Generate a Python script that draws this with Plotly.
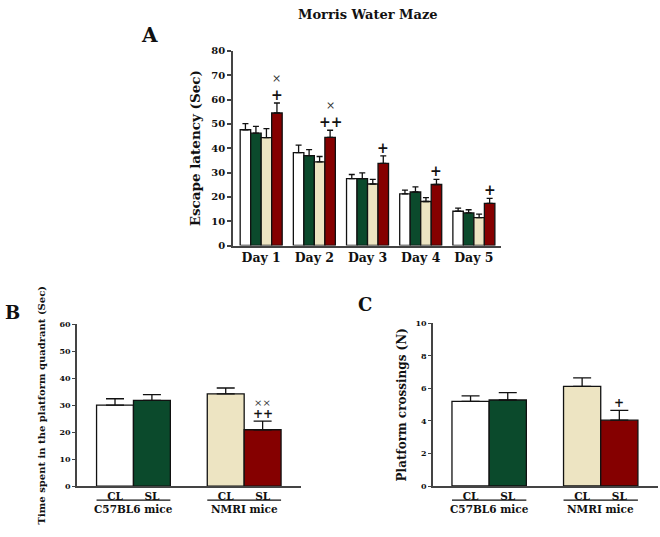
import plotly.graph_objects as go
import numpy as np

# ---------------- data ----------------
days = ["Day 1", "Day 2", "Day 3", "Day 4", "Day 5"]
a_c57_cl = [47.6, 38.2, 27.5, 21.2, 14.1]
a_c57_cl_err = [2.5, 3.1, 1.7, 1.6, 1.3]
a_c57_sl = [46.2, 37.0, 27.5, 22.0, 13.4]
a_c57_sl_err = [2.8, 2.4, 2.4, 2.1, 1.3]
a_nmri_cl = [44.4, 34.4, 25.3, 18.1, 11.5]
a_nmri_cl_err = [3.7, 2.2, 1.9, 1.6, 1.4]
a_nmri_sl = [54.5, 44.5, 33.8, 25.1, 17.3]
a_nmri_sl_err = [4.1, 2.9, 3.1, 2.1, 2.1]
a_marks_plus = ["+", "++", "+", "+", "+"]
a_marks_x = ["×", "×", "", "", ""]

groups_bc = ["CL", "SL", "CL", "SL"]
strains = ["C57BL6 mice", "NMRI mice"]
b_vals = [30.0, 31.8, 34.2, 20.9]
b_err = [2.4, 2.1, 2.2, 3.2]
b_marks = ["", "", "", "++"]
b_marks2 = ["", "", "", "××"]
c_vals = [5.21, 5.29, 6.13, 4.05]
c_err = [0.34, 0.46, 0.52, 0.60]
c_marks = ["", "", "", "+"]

colors = ["#ffffff", "#0b4a2c", "#ede4c2", "#850000"]
FONT = "DejaVu Serif"
W, H = 660, 537

def px(x):
    return x / W

def py(y):
    return 1 - y / H

fig = go.Figure()

# ---------------- panel A ----------------
bw = 0.1975
offsets = [-1.5 * bw, -0.5 * bw, 0.5 * bw, 1.5 * bw]
a_series = [(a_c57_cl, a_c57_cl_err), (a_c57_sl, a_c57_sl_err),
            (a_nmri_cl, a_nmri_cl_err), (a_nmri_sl, a_nmri_sl_err)]
xd = np.arange(len(days))
for i, (vals, errs) in enumerate(a_series):
    fig.add_trace(go.Bar(
        x=xd + offsets[i], y=vals, width=bw, xaxis="x", yaxis="y",
        marker=dict(color=colors[i], line=dict(color="#111", width=1.3)),
        error_y=dict(type="data", array=errs, arrayminus=[0] * len(errs),
                     color="#111", thickness=1.3, width=3),
        showlegend=False))

for j in range(len(days)):
    top = a_nmri_sl[j] + a_nmri_sl_err[j]
    fig.add_annotation(x=xd[j] + offsets[3], y=top, xref="x", yref="y",
                       text="<b>" + a_marks_plus[j] + "</b>", showarrow=False,
                       xanchor="center", yanchor="bottom", yshift=-2,
                       font=dict(family=FONT, size=14, color="#111"))
    if a_marks_x[j]:
        fig.add_annotation(x=xd[j] + offsets[3], y=top, xref="x", yref="y",
                           text=a_marks_x[j], showarrow=False,
                           xanchor="center", yanchor="bottom", yshift=16,
                           font=dict(family=FONT, size=11, color="#333"))

# ---------------- panels B & C ----------------
xbc = np.array([0, 1, 3, 4])
for vals, errs, xa, ya in [(b_vals, b_err, "x2", "y2"), (c_vals, c_err, "x3", "y3")]:
    fig.add_trace(go.Bar(
        x=xbc, y=vals, width=1, xaxis=xa, yaxis=ya,
        marker=dict(color=colors, line=dict(color="#111", width=1.3)),
        error_y=dict(type="data", array=errs, arrayminus=[0] * len(errs),
                     color="#111", thickness=1.3, width=9),
        showlegend=False))

for k in range(4):
    if b_marks[k]:
        fig.add_annotation(x=xbc[k], y=b_vals[k] + b_err[k], xref="x2", yref="y2",
                           text="<b>" + b_marks[k] + "</b>", showarrow=False,
                           xanchor="center", yanchor="bottom", yshift=-2,
                           font=dict(family=FONT, size=12, color="#111"))
    if b_marks2[k]:
        fig.add_annotation(x=xbc[k], y=b_vals[k] + b_err[k], xref="x2", yref="y2",
                           text=b_marks2[k], showarrow=False,
                           xanchor="center", yanchor="bottom", yshift=11,
                           font=dict(family=FONT, size=10, color="#333"))
    if c_marks[k]:
        fig.add_annotation(x=xbc[k], y=c_vals[k] + c_err[k], xref="x3", yref="y3",
                           text="<b>" + c_marks[k] + "</b>", showarrow=False,
                           xanchor="center", yanchor="bottom", yshift=-2,
                           font=dict(family=FONT, size=12, color="#111"))

# group labels and underlines
for xa in ["x2", "x3"]:
    for g, name in enumerate(strains):
        x0 = xbc[2 * g] - 0.5
        x1 = xbc[2 * g + 1] + 0.5
        fig.add_shape(type="line", xref=xa, yref="paper", x0=x0, x1=x1,
                      y0=py(505.5), y1=py(505.5), line=dict(color="#111", width=1.2))
        fig.add_annotation(x=(x0 + x1) / 2, y=py(515), xref=xa, yref="paper",
                           text="<b>" + name + "</b>", showarrow=False,
                           xanchor="center", yanchor="middle",
                           font=dict(family=FONT, size=10.5, color="#111"))

# titles and panel letters
fig.add_annotation(x=px(368), y=py(9), xref="paper", yref="paper",
                   text="<b>Morris Water Maze</b>", showarrow=False,
                   xanchor="center", yanchor="middle",
                   font=dict(family=FONT, size=13, color="#111"))
for letter, (lx, ly, sz) in {"A": (149, 30, 20), "B": (12, 313, 18), "C": (365, 305, 18)}.items():
    fig.add_annotation(x=px(lx), y=py(ly), xref="paper", yref="paper",
                       text="<b>" + letter + "</b>", showarrow=False,
                       xanchor="center", yanchor="middle",
                       font=dict(family=FONT, size=sz, color="#111"))

axis_common = dict(showline=True, linecolor="#444", linewidth=1.5, showgrid=False,
                   zeroline=False, color="#111")

fig.update_layout(
    width=W, height=H, margin=dict(l=0, r=0, t=0, b=0),
    plot_bgcolor="white", paper_bgcolor="white", barmode="overlay",
    font=dict(family=FONT, color="#111"),
    xaxis=dict(domain=[px(233), px(501)], range=[-0.53, 4.51], anchor="y",
               tickvals=list(xd), ticktext=days, ticks="",
               tickfont=dict(family=FONT, size=12.5, weight="bold"), **axis_common),
    yaxis=dict(domain=[py(245), py(46)], range=[0, 80], dtick=10, anchor="x",
               ticks="outside", ticklen=4, tickwidth=1.5, tickcolor="#444",
               tickfont=dict(family=FONT, size=10, weight="bold"),
               title=dict(text="<b>Escape latency (Sec)</b>", standoff=8,
                          font=dict(family=FONT, size=13.5)), **axis_common),
    xaxis2=dict(domain=[px(77), px(301)], range=[-1.03, 5.04], anchor="y2",
                tickvals=list(xbc), ticktext=groups_bc, ticks="",
                tickfont=dict(family=FONT, size=10.5, weight="bold"), **axis_common),
    yaxis2=dict(domain=[py(491), py(325.7)], range=[0, 60], dtick=10, anchor="x2",
                ticks="outside", ticklen=3, tickwidth=1.2, tickcolor="#444",
                tickfont=dict(family=FONT, size=8, weight="bold"),
                title=dict(text="<b>Time spent in the platform quadrant (Sec)</b>", standoff=12,
                           font=dict(family=FONT, size=10)), **axis_common),
    xaxis3=dict(domain=[px(433), px(658)], range=[-1.01, 5.04], anchor="y3",
                tickvals=list(xbc), ticktext=groups_bc, ticks="",
                tickfont=dict(family=FONT, size=10.5, weight="bold"), **axis_common),
    yaxis3=dict(domain=[py(491), py(324.7)], range=[0, 10], dtick=2, anchor="x3",
                ticks="outside", ticklen=3, tickwidth=1.2, tickcolor="#444",
                tickfont=dict(family=FONT, size=8, weight="bold"),
                title=dict(text="<b>Platform crossings (N)</b>", standoff=6,
                           font=dict(family=FONT, size=12)), **axis_common),
)

fig.write_html("out.html", config={"displayModeBar": False},
               post_script="document.body.style.margin='0';document.body.style.overflow='hidden';")
